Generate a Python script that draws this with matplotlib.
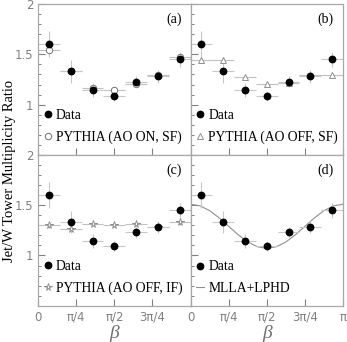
"""
Jet/W tower multiplicity ratio vs beta, four panels
"""

import numpy as np
import matplotlib
matplotlib.use('Agg')
from matplotlib import pyplot as plt
from matplotlib.lines import Line2D

# bin centres: 7 bins over [0, pi]
beta = (np.arange(7) + 0.5) * np.pi / 7
half_bin = np.pi / 14

data = [1.605, 1.33, 1.145, 1.09, 1.23, 1.28, 1.45]
data_err = [0.13, 0.11, 0.07, 0.05, 0.055, 0.06, 0.075]

pythia_ao_on_sf = [1.545, 1.335, 1.17, 1.15, 1.21, 1.29, 1.475]
pythia_ao_off_sf = [1.44, 1.445, 1.275, 1.21, 1.215, 1.29, 1.295]
pythia_ao_off_if = [1.30, 1.26, 1.31, 1.30, 1.315, 1.285, 1.335]
mc_err = [0.03, 0.03, 0.02, 0.02, 0.02, 0.02, 0.03]

# MLLA+LPHD curve read at beta = k*pi/16
mlla_beta = np.arange(17) * np.pi / 16
mlla = [1.51, 1.493, 1.446, 1.374, 1.29, 1.206, 1.134, 1.087, 1.07,
        1.087, 1.134, 1.206, 1.29, 1.374, 1.446, 1.493, 1.51]

xtick_pos = [0, np.pi / 4, np.pi / 2, 3 * np.pi / 4, np.pi]
xtick_lab = ['0', 'π/4', 'π/2', '3π/4', 'π']

tickgrey = '#808080'
serif = 'Liberation Serif'

fig, axes = plt.subplots(2, 2, figsize=(3.47, 3.42), dpi=100)
fig.subplots_adjust(left=0.110, right=0.9885, bottom=0.106, top=0.988, wspace=0, hspace=0)

mc_sets = [
    (pythia_ao_on_sf, dict(marker='o', mfc='white', mec='#707070', ms=4.6), 'PYTHIA (AO ON, SF)'),
    (pythia_ao_off_sf, dict(marker='^', mfc='white', mec='#909090', ms=4.8), 'PYTHIA (AO OFF, SF)'),
    (pythia_ao_off_if, dict(marker='*', mfc='white', mec='#909090', ms=5.5), 'PYTHIA (AO OFF, IF)'),
]
letters = ['(a)', '(b)', '(c)', '(d)']

for i, ax in enumerate(axes.flat):
    if i < 3:
        vals, style, lab = mc_sets[i]
        ax.errorbar(beta, vals, xerr=half_bin, yerr=mc_err, fmt='none',
                    ecolor='#c0c0c0', elinewidth=0.8, zorder=2)
        ax.plot(beta, vals, ls='none', mew=0.7, zorder=3, **style)
        mc_handle = Line2D([], [], ls='none', mew=0.7, **style)
    else:
        ax.plot(mlla_beta, mlla, color='#909090', lw=0.8, zorder=2)
        mc_handle = Line2D([], [], color='#909090', lw=0.8)
        lab = 'MLLA+LPHD'

    ax.errorbar(beta, data, xerr=half_bin, yerr=data_err, fmt='none',
                ecolor='#c8c8c8', elinewidth=0.8, zorder=2.5)
    ax.plot(beta, data, 'o', color='black', ms=4.6, zorder=4)
    data_handle = Line2D([], [], ls='none', marker='o', color='black', ms=4.6)

    ax.legend([data_handle, mc_handle], ['Data', lab], loc='lower left',
              bbox_to_anchor=(0.035, 0.07), borderaxespad=0, borderpad=0,
              handlelength=0.6, handletextpad=0.3, labelspacing=0.65,
              frameon=False, prop={'family': serif, 'size': 9.8})

    ax.text(0.94, 0.90, letters[i], transform=ax.transAxes, ha='right', va='center',
            family=serif, fontsize=10)

    ax.set_xlim(0, np.pi)
    ax.set_ylim(0.5, 2)
    ax.set_xticks(xtick_pos)
    ax.set_yticks([1, 1.5, 2])
    ax.set_yticks(np.arange(0.5, 2.01, 0.1), minor=True)
    if i % 2 == 0:
        ax.set_yticklabels(['1', '1.5', '2'])
    else:
        ax.set_yticklabels([])
    if i == 2:
        ax.set_xticklabels(xtick_lab[:-1] + [''])
    elif i == 3:
        ax.set_xticklabels(xtick_lab)
    else:
        ax.set_xticklabels([])
    ax.tick_params(direction='in', colors=tickgrey, labelsize=8.5, length=5, width=0.8,
                   labelcolor=tickgrey)
    ax.tick_params(axis='y', which='minor', direction='in', length=2.5, width=0.7,
                   colors=tickgrey)
    for sp in ax.spines.values():
        sp.set_color('#a8a8a8')
        sp.set_linewidth(0.9)

for ax in axes[1]:
    ax.set_xlabel('β', family=serif, style='italic', fontsize=14, color='#707070', labelpad=1)

fig.text(0.028, 0.5, 'Jet/W Tower Multiplicity Ratio', rotation=90, ha='center', va='center',
         family=serif, fontsize=10.5)

fig.savefig('out.png', dpi=100)
